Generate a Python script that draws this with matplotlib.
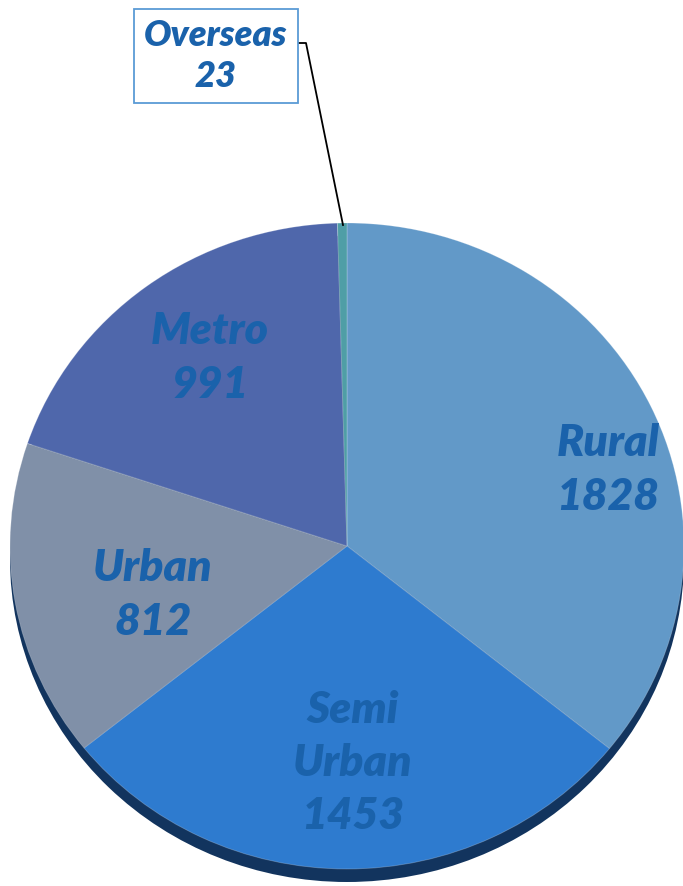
import matplotlib
matplotlib.use("Agg")
import matplotlib.pyplot as plt
from matplotlib.patches import Ellipse

categories = ["Rural", "Semi\nUrban", "Urban", "Metro", "Overseas"]
values = [1828, 1453, 812, 991, 23]
colors = ["#6299C8", "#2E7BCF", "#8090A8", "#4F67AB", "#4F9EA6"]

W, H = 683, 886
fig = plt.figure(figsize=(W / 100, H / 100), dpi=100)
ax = fig.add_axes([0, 0, 1, 1])

cx, cy, rx, ry = 347, 546, 337, 323
ax.axis("off")

# depth (3D edge)
ax.add_patch(Ellipse((0, -13 / ry), 2, 2, facecolor="#12345E", edgecolor="none", zorder=0))

wedges, _ = ax.pie(values, colors=colors, startangle=90, counterclock=False,
                   radius=1, center=(0, 0), wedgeprops=dict(linewidth=0.6, edgecolor=(1, 1, 1, 0.25)))
for w in wedges:
    w.set_zorder(1)
ax.set_xlim(-cx / rx, (W - cx) / rx)
ax.set_ylim(-(H - cy) / ry, cy / ry)
ax.set_aspect("auto")

def px(x, y):
    return (x - cx) / rx, (cy - y) / ry

txtc = "#1A62AB"
font = dict(family="Lato", fontweight="heavy", fontstyle="italic", fontsize=32,
            color=txtc, ha="center", va="center", linespacing=1.4, zorder=5)

label_pos = [(608, 470), (353, 763), (153, 595), (210, 358)]
for name, v, (x, y) in zip(categories[:4], values[:4], label_pos):
    ax.text(*px(x, y), f"{name}\n{v}", **font)

# Overseas callout
ax.text(*px(216, 56), f"{categories[4]}\n{values[4]}",
        bbox=dict(boxstyle="square,pad=0.28", facecolor="white", edgecolor="#5B9BD5", linewidth=1.3),
        **{**font, "fontsize": 26, "linespacing": 1.3})
xs = [px(296, 43)[0], px(306, 43)[0], px(343, 225)[0]]
ys = [px(296, 43)[1], px(306, 43)[1], px(343, 225)[1]]
ax.plot(xs, ys, color="black", linewidth=1.3, zorder=4)

fig.savefig("out.png", dpi=100)
